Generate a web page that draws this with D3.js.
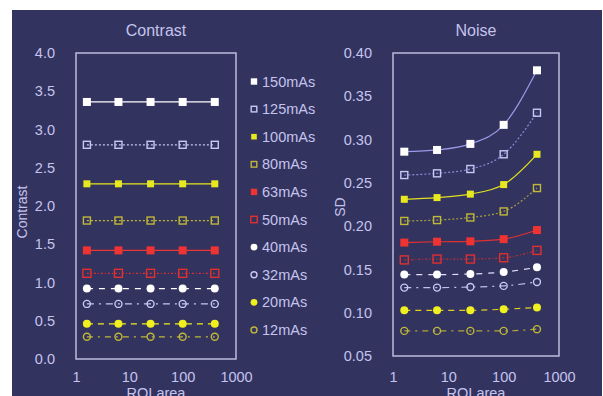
<!DOCTYPE html>
<html><head><meta charset="utf-8">
<script src="https://cdn.jsdelivr.net/npm/d3@7"></script>
<style>body{margin:0;background:#fff}svg{display:block}text{font-family:"Liberation Sans",Arial,sans-serif}</style>
</head><body><svg id="c" width="603" height="396"></svg>
<script>
const roiAreas = [1.6, 6.25, 25, 100, 400];
const seriesNames = ["150mAs","125mAs","100mAs","80mAs","63mAs","50mAs","40mAs","32mAs","20mAs","12mAs"];
const contrastValues = [
  [3.36,3.36,3.36,3.36,3.36],
  [2.80,2.80,2.80,2.80,2.80],
  [2.29,2.29,2.29,2.29,2.29],
  [1.81,1.81,1.81,1.81,1.81],
  [1.42,1.42,1.42,1.42,1.42],
  [1.12,1.12,1.12,1.12,1.12],
  [0.92,0.92,0.92,0.92,0.92],
  [0.72,0.72,0.72,0.72,0.72],
  [0.46,0.46,0.46,0.46,0.46],
  [0.29,0.29,0.29,0.29,0.29]
];
const noiseValues = [
  [0.286,0.288,0.295,0.317,0.380],
  [0.259,0.261,0.266,0.283,0.331],
  [0.231,0.233,0.237,0.248,0.283],
  [0.206,0.207,0.210,0.217,0.244],
  [0.181,0.182,0.1825,0.185,0.1955],
  [0.161,0.162,0.162,0.1635,0.172],
  [0.144,0.144,0.1447,0.147,0.1524],
  [0.129,0.129,0.1297,0.131,0.1355],
  [0.1028,0.1028,0.1028,0.104,0.106],
  [0.079,0.079,0.079,0.079,0.081]
];
const contrastTicks = [0,0.5,1,1.5,2,2.5,3,3.5,4];
const noiseTicks = [0.05,0.10,0.15,0.20,0.25,0.30,0.35,0.40];
const xTicks = [1,10,100,1000];

const styles = [
  {c:"#ffffff", lc:"#ffffff", m:"square", fill:true, dash:null, s:8},
  {c:"#c8c8f4", lc:"#c8c8f4", m:"square", fill:false, dash:"2,2", s:7},
  {c:"#e8e820", lc:"#e8e820", m:"square", fill:true, dash:null, s:7},
  {c:"#c0b838", lc:"#c0b838", m:"square", fill:false, dash:"2,2", s:7},
  {c:"#ee3333", lc:"#ee3333", m:"square", fill:true, dash:null, s:8},
  {c:"#e03030", lc:"#e03030", m:"square", fill:false, dash:"2,2,1,2", s:8},
  {c:"#ffffff", lc:"#ffffff", m:"circle", fill:true, dash:"6,6", s:4},
  {c:"#c8c8f4", lc:"#c8c8f4", m:"circle", fill:false, dash:"7,5,2,5", s:3.5},
  {c:"#f0f020", lc:"#f0f020", m:"circle", fill:true, dash:"6,5", s:4},
  {c:"#c0b838", lc:"#c0b838", m:"circle", fill:false, dash:"6,5,2,5", s:3.5}
];
const noiseLineColors = ["#9a9ae8","#8c8ce0","#e0e020","#a8a040","#e03030","#c03030","#e0e0ff","#c0c0f0","#e0d020","#b0a838"];

const txt = "#c4c4ee";
const svg = d3.select("#c");
svg.append("rect").attr("x",12).attr("y",10).attr("width",590).attr("height",386).attr("fill","#33335f");

function drawMarker(g, st, x, y, scale) {
  const s = st.s*scale;
  if (st.m === "square") {
    g.append("rect").attr("x",x-s/2).attr("y",y-s/2).attr("width",s).attr("height",s)
      .attr("fill",st.fill?st.c:"none").attr("stroke",st.c).attr("stroke-width",st.fill?0:1.4);
  } else {
    g.append("circle").attr("cx",x).attr("cy",y).attr("r",s)
      .attr("fill",st.fill?st.c:"none").attr("stroke",st.c).attr("stroke-width",st.fill?0:1.4);
  }
}

function panel(opts) {
  const x = d3.scaleLog().domain([1,1000]).range([opts.x0, opts.x1]);
  const y = d3.scaleLinear().domain(opts.yDomain).range([opts.y1, opts.y0]);
  const g = svg.append("g");
  g.append("rect").attr("x",opts.x0).attr("y",opts.y0).attr("width",opts.x1-opts.x0).attr("height",opts.y1-opts.y0)
    .attr("fill","none").attr("stroke","#b4b4d8").attr("stroke-width",1.6);
  const ya = g.append("g").attr("transform",`translate(${opts.x0-18},0)`)
    .call(d3.axisLeft(y).tickValues(opts.yTicks).tickSize(0).tickFormat(opts.fmt));
  ya.select(".domain").remove();
  ya.selectAll("text").attr("fill",txt).attr("font-size",14.5).attr("font-family","Liberation Sans, Arial, sans-serif");
  const xa = g.append("g").attr("transform",`translate(0,369)`)
    .call(d3.axisBottom(x).tickValues(xTicks).tickSize(0).tickFormat(d3.format("d")));
  xa.select(".domain").remove();
  xa.selectAll("text").attr("fill",txt).attr("font-size",14.5).attr("font-family","Liberation Sans, Arial, sans-serif");
  g.append("text").attr("x",(opts.x0+opts.x1)/2).attr("y",36).attr("text-anchor","middle")
    .attr("fill",txt).attr("font-size",16).text(opts.title);
  g.append("text").attr("x",(opts.x0+opts.x1)/2).attr("y",398).attr("text-anchor","middle")
    .attr("fill",txt).attr("font-size",14.5).text("ROI area");
  g.append("text").attr("transform",`translate(${opts.ylx},${opts.yly}) rotate(-90)`).attr("text-anchor","middle")
    .attr("fill",txt).attr("font-size",14).text(opts.ylabel);
  const line = d3.line().x((d,i)=>x(roiAreas[i])).y(d=>y(d)).curve(opts.curve);
  opts.values.forEach((vals,k)=>{
    const st = styles[k];
    g.append("path").attr("d",line(vals)).attr("fill","none")
      .attr("stroke",opts.lineColors?opts.lineColors[k]:st.lc).attr("stroke-width",1.2)
      .attr("stroke-dasharray",st.dash);
    vals.forEach((v,i)=>drawMarker(g,st,x(roiAreas[i]),y(v),1));
  });
}

panel({x0:76,x1:236,y0:53,y1:359,yDomain:[0,4],yTicks:contrastTicks,fmt:d3.format(".1f"),
  title:"Contrast",ylabel:"Contrast",ylx:27,yly:212,values:contrastValues,curve:d3.curveLinear});
panel({x0:393,x1:559,y0:53,y1:356,yDomain:[0.05,0.40],yTicks:noiseTicks,fmt:d3.format(".2f"),
  title:"Noise",ylabel:"SD",ylx:345,yly:207,values:noiseValues,curve:d3.curveMonotoneX,lineColors:noiseLineColors});

// legend
const lg = svg.append("g");
seriesNames.forEach((n,k)=>{
  const yy = 81.5 + k*27.6;
  drawMarker(lg, styles[k], 254, yy, styles[k].m==="square"?0.8:0.85);
  lg.append("text").attr("x",262).attr("y",yy+5).attr("fill",txt).attr("font-size",14.5).text(n);
});
</script></body></html>
